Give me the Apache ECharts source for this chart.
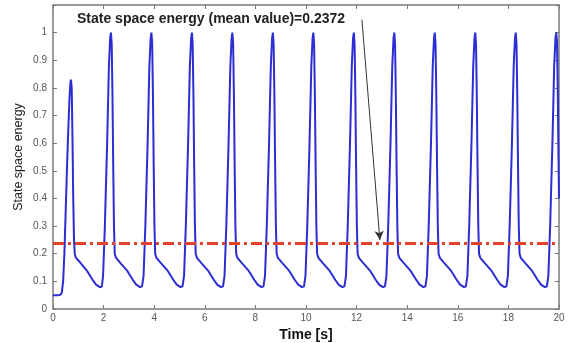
<!DOCTYPE html>
<html>
<head>
<meta charset="utf-8">
<script src="https://cdn.jsdelivr.net/npm/echarts@6/dist/echarts.min.js"></script>
<style>
html,body{margin:0;padding:0;background:#fff;}
#chart{width:579px;height:343px;}
</style>
</head>
<body>
<div id="chart"></div>
<script>
// Time axis ticks
const xTicks = [0, 2, 4, 6, 8, 10, 12, 14, 16, 18, 20];
const yTicks = [0, 0.1, 0.2, 0.3, 0.4, 0.5, 0.6, 0.7, 0.8, 0.9, 1];

// State space energy trace (time in s)
const timeS = [
  0, 0.1, 0.2, 0.3, 0.35, 0.4, 0.45, 0.5, 0.55, 0.6, 0.65, 0.69, 0.71, 0.74, 0.77, 0.8, 0.83, 0.86, 0.9, 1.06, 1.33, 1.57, 1.7, 1.77, 1.85, 1.93, 1.98, 2.05, 2.14, 2.21, 2.26,
  2.29, 2.32, 2.35, 2.38, 2.41, 2.44, 2.49, 2.65, 2.92, 3.16, 3.29, 3.36, 3.44, 3.52, 3.58, 3.65, 3.74, 3.81, 3.86,
  3.89, 3.92, 3.95, 3.98, 4.01, 4.04, 4.09, 4.25, 4.52, 4.76, 4.89, 4.96, 5.04, 5.12, 5.18, 5.25, 5.34, 5.41, 5.46,
  5.49, 5.52, 5.55, 5.58, 5.61, 5.64, 5.69, 5.85, 6.12, 6.36, 6.49, 6.56, 6.64, 6.72, 6.78, 6.85, 6.94, 7.01, 7.06,
  7.09, 7.12, 7.15, 7.18, 7.21, 7.24, 7.29, 7.45, 7.72, 7.96, 8.09, 8.16, 8.24, 8.32, 8.38, 8.45, 8.54, 8.61, 8.66,
  8.69, 8.72, 8.75, 8.78, 8.81, 8.84, 8.89, 9.05, 9.32, 9.56, 9.69, 9.76, 9.84, 9.92, 9.98, 10.05, 10.14, 10.21, 10.26,
  10.29, 10.32, 10.35, 10.38, 10.41, 10.44, 10.49, 10.65, 10.92, 11.16, 11.29, 11.36, 11.44, 11.52, 11.58, 11.65, 11.74, 11.81, 11.86,
  11.89, 11.92, 11.95, 11.98, 12.01, 12.04, 12.09, 12.25, 12.52, 12.76, 12.89, 12.96, 13.04, 13.12, 13.18, 13.25, 13.34, 13.41, 13.46,
  13.49, 13.52, 13.55, 13.58, 13.61, 13.64, 13.69, 13.85, 14.12, 14.36, 14.49, 14.56, 14.64, 14.72, 14.78, 14.85, 14.94, 15.01, 15.06,
  15.09, 15.12, 15.15, 15.18, 15.21, 15.24, 15.29, 15.45, 15.72, 15.96, 16.09, 16.16, 16.24, 16.32, 16.38, 16.45, 16.54, 16.61, 16.66,
  16.69, 16.72, 16.75, 16.78, 16.81, 16.84, 16.89, 17.05, 17.32, 17.56, 17.69, 17.76, 17.84, 17.92, 17.98, 18.05, 18.14, 18.21, 18.26,
  18.29, 18.32, 18.35, 18.38, 18.41, 18.44, 18.49, 18.65, 18.92, 19.16, 19.29, 19.36, 19.44, 19.52, 19.58, 19.65, 19.74, 19.81, 19.86,
  19.89, 19.92, 19.95, 19.98, 20
];
const energy = [
  0.05, 0.05, 0.05, 0.052, 0.06, 0.1, 0.2, 0.35, 0.5, 0.64, 0.76, 0.82, 0.83, 0.8, 0.62, 0.4, 0.25, 0.2, 0.186, 0.17, 0.14, 0.105, 0.088, 0.081, 0.079, 0.081, 0.12, 0.3, 0.6, 0.88, 0.98,
  1.0, 0.96, 0.78, 0.52, 0.3, 0.2, 0.186, 0.168, 0.14, 0.105, 0.088, 0.081, 0.079, 0.082, 0.12, 0.3, 0.6, 0.88, 0.98,
  1.0, 0.96, 0.78, 0.52, 0.3, 0.2, 0.185, 0.168, 0.14, 0.105, 0.088, 0.081, 0.079, 0.082, 0.12, 0.3, 0.6, 0.88, 0.98,
  1.0, 0.96, 0.78, 0.52, 0.3, 0.2, 0.185, 0.168, 0.14, 0.105, 0.088, 0.081, 0.079, 0.082, 0.12, 0.3, 0.6, 0.88, 0.98,
  1.0, 0.96, 0.78, 0.52, 0.3, 0.2, 0.185, 0.168, 0.14, 0.105, 0.088, 0.081, 0.079, 0.082, 0.12, 0.3, 0.6, 0.88, 0.98,
  1.0, 0.96, 0.78, 0.52, 0.3, 0.2, 0.185, 0.168, 0.14, 0.105, 0.088, 0.081, 0.079, 0.082, 0.12, 0.3, 0.6, 0.88, 0.98,
  1.0, 0.96, 0.78, 0.52, 0.3, 0.2, 0.185, 0.168, 0.14, 0.105, 0.088, 0.081, 0.079, 0.082, 0.12, 0.3, 0.6, 0.88, 0.98,
  1.0, 0.96, 0.78, 0.52, 0.3, 0.2, 0.185, 0.168, 0.14, 0.105, 0.088, 0.081, 0.079, 0.082, 0.12, 0.3, 0.6, 0.88, 0.98,
  1.0, 0.96, 0.78, 0.52, 0.3, 0.2, 0.185, 0.168, 0.14, 0.105, 0.088, 0.081, 0.079, 0.082, 0.12, 0.3, 0.6, 0.88, 0.98,
  1.0, 0.96, 0.78, 0.52, 0.3, 0.2, 0.185, 0.168, 0.14, 0.105, 0.088, 0.081, 0.079, 0.082, 0.12, 0.3, 0.6, 0.88, 0.98,
  1.0, 0.96, 0.78, 0.52, 0.3, 0.2, 0.185, 0.168, 0.14, 0.105, 0.088, 0.081, 0.079, 0.082, 0.12, 0.3, 0.6, 0.88, 0.98,
  1.0, 0.96, 0.78, 0.52, 0.3, 0.2, 0.185, 0.168, 0.14, 0.105, 0.088, 0.081, 0.079, 0.082, 0.12, 0.3, 0.6, 0.88, 0.98,
  1.0, 0.97, 0.8, 0.55, 0.4
];

const meanValue = 0.2372;
const meanLabel = 'State space energy (mean value)=0.2372';
// annotation arrow: from near label end to the mean line
const arrowFrom = [12.21, 1.047];
const arrowTo = [12.92, 0.25];

const traceData = timeS.map((t, i) => [t, energy[i]]);
const meanData = [[xTicks[0], meanValue], [xTicks[xTicks.length - 1], meanValue]];

const chart = echarts.init(document.getElementById('chart'), null, {renderer: 'canvas'});

const axisCol = '#7a7a7a';
const labelCol = '#555';
const fontFam = 'Arial, "Liberation Sans", sans-serif';

function boxAxis(extra) {
  return Object.assign({
    type: 'value',
    axisLine: {show: true, onZero: false, lineStyle: {color: axisCol, width: 1.5}},
    axisTick: {show: true, inside: true, length: 4, lineStyle: {color: axisCol}},
    splitLine: {show: false}
  }, extra);
}

chart.setOption({
  animation: false,
  backgroundColor: '#fff',
  grid: {left: 53, right: 20, top: 5, bottom: 34, containLabel: false, outerBoundsMode: 'none'},
  xAxis: [
    boxAxis({
      position: 'bottom', min: 0, max: 20, interval: 2,
      name: 'Time [s]', nameLocation: 'middle', nameGap: 14,
      nameTextStyle: {color: '#111', fontSize: 14, fontWeight: 'bold', fontFamily: fontFam},
      axisLabel: {color: labelCol, fontSize: 10, fontFamily: fontFam, margin: 4}
    }),
    boxAxis({
      position: 'top', min: 0, max: 20, interval: 2,
      axisLabel: {show: false}
    })
  ],
  yAxis: [
    boxAxis({
      position: 'left', min: 0, max: 1.1, interval: 0.1,
      name: 'State space energy', nameLocation: 'middle', nameGap: 28, nameMoveOverlap: false,
      nameTextStyle: {color: '#222', fontSize: 12.5, fontFamily: fontFam},
      axisLabel: {
        color: labelCol, fontSize: 10, fontFamily: fontFam, margin: 6,
        formatter: v => (v > 1.05 ? '' : String(Math.round(v * 10) / 10))
      }
    }),
    boxAxis({
      position: 'right', min: 0, max: 1.1, interval: 0.1,
      axisLabel: {show: false}
    })
  ],
  graphic: [
    {
      type: 'text', left: 77, top: 12,
      style: {text: meanLabel, fill: '#222', font: 'bold 14px Arial, "Liberation Sans", sans-serif'}
    }
  ],
  series: [
    {
      type: 'line', data: traceData, showSymbol: false, symbol: 'none',
      lineStyle: {color: '#2d2dd4', width: 2},
      z: 3
    },
    {
      type: 'line', data: meanData, showSymbol: false, symbol: 'none',
      lineStyle: {color: '#e2422a', width: 3, type: [11, 4, 3, 4]},
      z: 4
    },
    {
      type: 'line', data: [], symbol: 'none',
      markLine: {
        silent: true, animation: false,
        symbol: ['none', 'arrow'], symbolSize: [7, 9],
        label: {show: false},
        lineStyle: {color: '#333', width: 1, type: 'solid'},
        data: [[{coord: arrowFrom}, {coord: arrowTo}]]
      },
      z: 5
    }
  ]
});
</script>
</body>
</html>
